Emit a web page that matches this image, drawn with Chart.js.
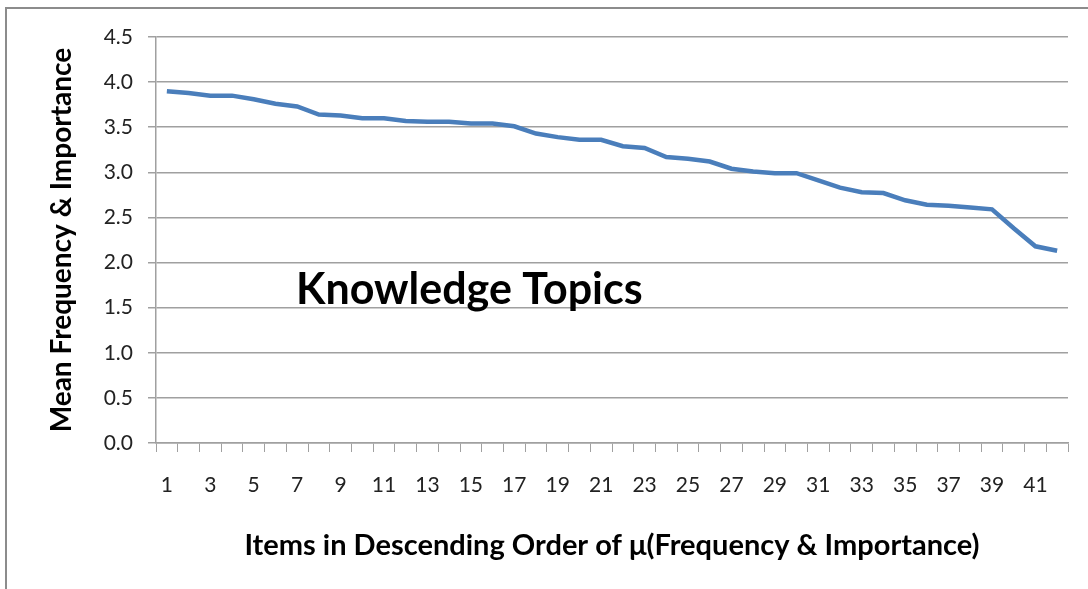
<!DOCTYPE html>
<html>
<head>
<meta charset="utf-8">
<script src="https://cdn.jsdelivr.net/npm/chart.js@4"></script>
<style>
  body { margin: 0; background: #fff; }
  #wrap { width: 1088px; height: 589px; }
</style>
</head>
<body>
<div id="wrap"><canvas id="lineChart" width="1088" height="589"></canvas></div>
<script>
// item numbers (x categories) and mean scores
var items = ["1", "2", "3", "4", "5", "6", "7", "8", "9", "10", "11", "12", "13", "14",
  "15", "16", "17", "18", "19", "20", "21", "22", "23", "24", "25", "26", "27", "28",
  "29", "30", "31", "32", "33", "34", "35", "36", "37", "38", "39", "40", "41", "42"];
var meanScores = [3.90, 3.88, 3.85, 3.85, 3.81, 3.76, 3.73, 3.64, 3.63, 3.60, 3.60, 3.57,
  3.56, 3.56, 3.54, 3.54, 3.51, 3.43, 3.39, 3.36, 3.36, 3.29, 3.27, 3.17, 3.15, 3.12,
  3.04, 3.01, 2.99, 2.99, 2.91, 2.83, 2.78, 2.77, 2.69, 2.64, 2.63, 2.61, 2.59, 2.38,
  2.18, 2.13];
var yTicks = { min: 0, max: 4.5, step: 0.5 };

Chart.defaults.font.family = 'Lato, "Open Sans", sans-serif';
Chart.defaults.color = '#222';

// frame line on left/top + the "Knowledge Topics" caption inside the plot
var decor = {
  id: 'decor',
  beforeDraw: function (chart) {
    var ctx = chart.ctx;
    ctx.save();
    ctx.strokeStyle = '#8c8c8c';
    ctx.lineWidth = 2;
    ctx.beginPath();
    ctx.moveTo(6, 589);
    ctx.lineTo(6, 8);
    ctx.lineTo(1088, 8);
    ctx.stroke();
    ctx.restore();
  },
  afterDatasetsDraw: function (chart) {
    var ctx = chart.ctx, area = chart.chartArea;
    ctx.save();
    ctx.font = 'bold 43px Lato, sans-serif';
    ctx.fillStyle = '#000';
    ctx.textBaseline = 'middle';
    ctx.fillText('Knowledge Topics', area.left + 140, 290);
    ctx.restore();
  }
};

var chartTopics = document.getElementById("lineChart").getContext('2d');
var lineChart = new Chart(chartTopics, {
  type: 'line',
  data: {
    labels: items,
    datasets: [{
      label: "Knowledge Topics",
      data: meanScores,
      borderColor: '#4a7ebb',
      backgroundColor: '#4a7ebb',
      borderWidth: 4.5,
      pointRadius: 0,
      tension: 0
    }]
  },
  plugins: [decor],
  options: {
    responsive: false,
    animation: false,
    layout: { padding: { top: 37, right: 20, left: 0, bottom: 0 } },
    plugins: {
      legend: { display: false },
      tooltip: { enabled: false }
    },
    scales: {
      x: {
        offset: true,
        afterFit: function (scale) { scale.height = 146; },
        grid: {
          offset: true,
          drawOnChartArea: false,
          drawTicks: true,
          tickLength: 9,
          color: '#a0a0a0'
        },
        border: { color: '#a0a0a0', width: 1.5 },
        ticks: {
          autoSkip: false,
          maxRotation: 0,
          padding: 21,
          font: { size: 21 },
          callback: function (val, i) { return i % 2 === 0 ? items[i] : ''; }
        },
        title: {
          display: true,
          text: 'Items in Descending Order of \u03bc(Frequency & Importance)',
          font: { size: 29, weight: 'bold' },
          color: '#000',
          padding: { top: 0, bottom: 26 }
        }
      },
      y: {
        min: yTicks.min,
        max: yTicks.max,
        afterFit: function (scale) { scale.width = 156; },
        grid: {
          color: '#a0a0a0',
          lineWidth: 1.5,
          tickLength: 8
        },
        border: { color: '#a0a0a0', width: 1.5 },
        ticks: {
          stepSize: yTicks.step,
          padding: 15,
          font: { size: 21 },
          callback: function (v) { return v.toFixed(1); }
        },
        title: {
          display: true,
          text: 'Mean Frequency & Importance',
          font: { size: 28, weight: 'bold' },
          color: '#000',
          padding: { top: 45, bottom: 0 }
        }
      }
    }
  }
});
</script>
</body>
</html>
